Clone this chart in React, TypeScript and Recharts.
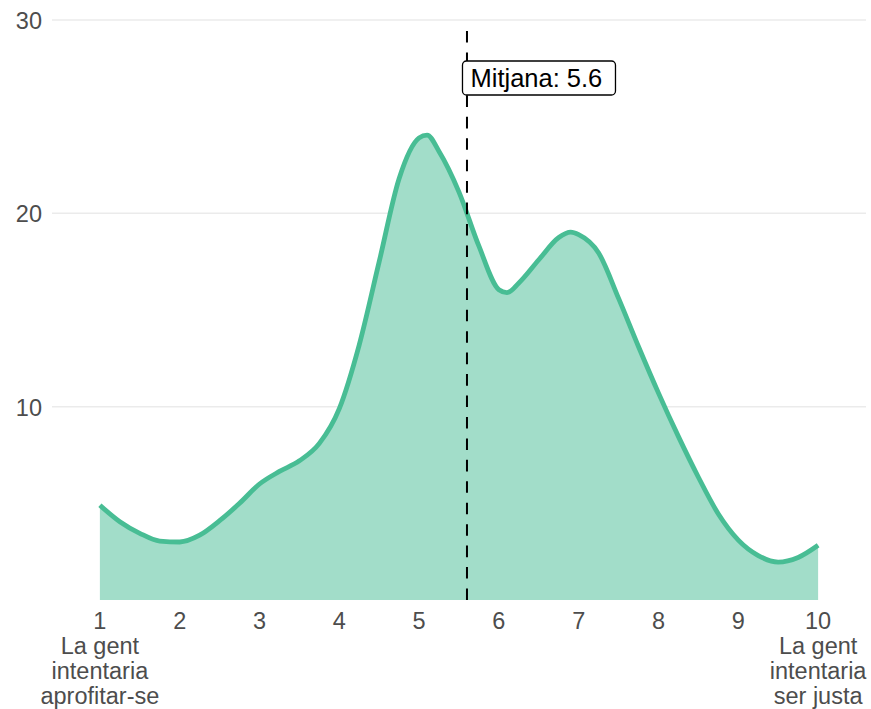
import {
  Area,
  CartesianGrid,
  ComposedChart,
  ReferenceDot,
  ReferenceLine,
  XAxis,
  YAxis,
} from "recharts";

// density estimate (x = score, y = share in %)
const scoreX = [
  1, 1.25, 1.5, 1.75, 2, 2.25, 2.5, 2.75, 3, 3.25, 3.5, 3.75, 4, 4.25, 4.5, 4.75,
  5, 5.1, 5.25, 5.5, 5.75, 6, 6.1, 6.25, 6.5, 6.75, 6.9, 7, 7.25, 7.5, 7.75, 8,
  8.25, 8.5, 8.75, 9, 9.25, 9.5, 9.75, 10,
];
const densityY = [
  4.9, 4.05, 3.45, 3.05, 3.0, 3.35, 4.1, 5.0, 6.0, 6.65, 7.2, 8.1, 9.9, 13.2, 17.5, 21.8,
  23.9, 24.05, 23.2, 21.1, 18.3, 16.05, 15.9, 16.4, 17.6, 18.75, 19.03, 18.9, 17.95, 15.6, 13.1, 10.7,
  8.45, 6.35, 4.45, 3.1, 2.3, 1.96, 2.2, 2.83,
];

const MEAN = 5.6;
const MEAN_LINE_TOP = 29.43;
const MEAN_LABEL_Y = 27;
const xTicks = [1, 2, 3, 4, 5, 6, 7, 8, 9, 10];
const yTicks = [10, 20, 30];
const endLabels: Record<number, string[]> = {
  1: ["La gent", "intentaria", "aprofitar-se"],
  10: ["La gent", "intentaria", "ser justa"],
};

const data = scoreX.map((x, i) => ({ x, y: densityY[i] }));

const FONT = "'Liberation Sans', Arial, sans-serif";
const TEXT = "#4d4d4d";

function YTick({ x, y, payload }: any) {
  return (
    <text x={x} y={y} dy={9} textAnchor="end" fill={TEXT} fontSize={23.5} fontFamily={FONT}>
      {payload.value}
    </text>
  );
}

function XTick({ x, y, payload }: any) {
  const extra = endLabels[payload.value] ?? [];
  return (
    <text x={x} y={y + 29} textAnchor="middle" fill={TEXT} fontSize={23.5} fontFamily={FONT}>
      <tspan x={x}>{payload.value}</tspan>
      {extra.map((line) => (
        <tspan key={line} x={x} dy={25}>
          {line}
        </tspan>
      ))}
    </text>
  );
}

function MeanLabel({ cx, cy }: any) {
  return (
    <g>
      <rect x={cx - 4.5} y={cy - 17} width={153} height={34} rx={4} fill="#fff" stroke="#000" strokeWidth={1.3} />
      <text x={cx + 3.5} y={cy} dy={9} fill="#000" fontSize={25.5} fontFamily={FONT}>
        {`Mitjana: ${MEAN}`}
      </text>
    </g>
  );
}

export default function App() {
  return (
    <div style={{ position: "absolute", left: 0, top: 0, width: 871, height: 709, background: "#fff" }}>
      <ComposedChart width={871} height={709} data={data} margin={{ top: 20, right: 5, bottom: 0, left: 0 }}>
        <CartesianGrid vertical={false} horizontalValues={yTicks} stroke="#ebebeb" strokeWidth={1.5} />
        <XAxis
          dataKey="x"
          type="number"
          domain={[0.4, 10.6]}
          ticks={xTicks}
          interval={0}
          height={109}
          axisLine={false}
          tickLine={false}
          tickSize={0}
          tickMargin={0}
          tick={<XTick />}
        />
        <YAxis
          type="number"
          domain={[0, 30]}
          ticks={yTicks}
          width={52}
          axisLine={false}
          tickLine={false}
          tickSize={0}
          tickMargin={10}
          tick={<YTick />}
        />
        <Area
          type="monotone"
          dataKey="y"
          stroke="#48bd94"
          strokeWidth={4.8}
          fill="#a2ddc9"
          fillOpacity={1}
          dot={false}
          activeDot={false}
          isAnimationActive={false}
        />
        <ReferenceLine
          segment={[
            { x: MEAN, y: MEAN_LINE_TOP },
            { x: MEAN, y: 0 },
          ]}
          stroke="#000"
          strokeWidth={2}
          strokeDasharray="11.6 9.84"
        />
        <ReferenceDot x={MEAN} y={MEAN_LABEL_Y} shape={<MeanLabel />} />
      </ComposedChart>
    </div>
  );
}
